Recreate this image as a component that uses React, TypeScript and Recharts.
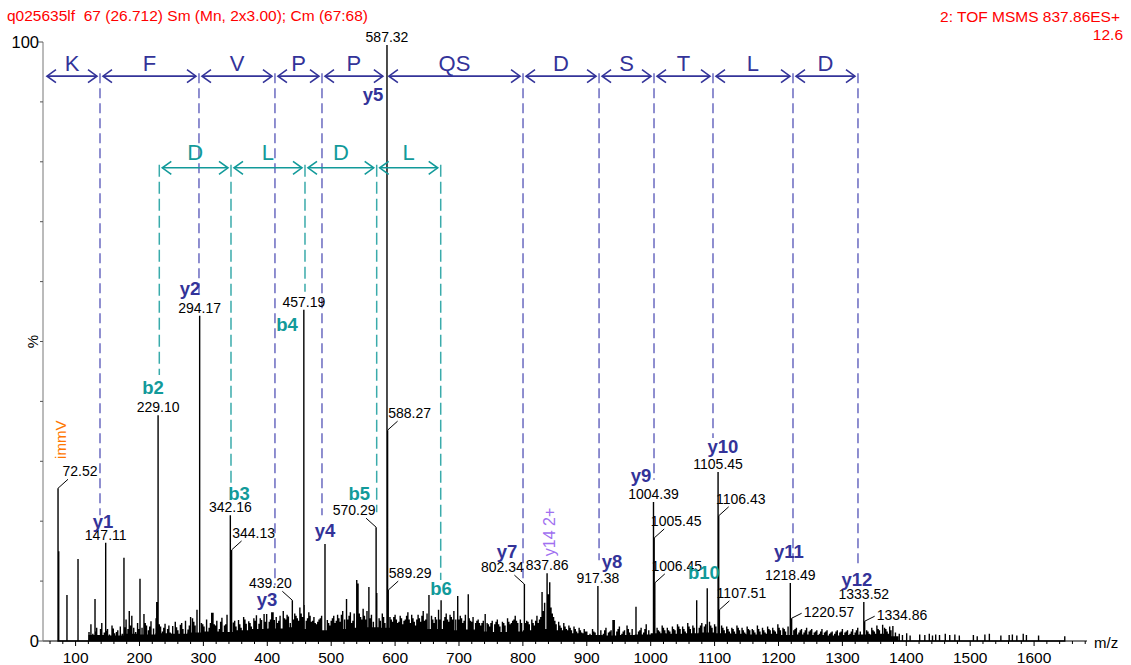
import React from "react";
import { ComposedChart, Line, Area, Scatter, XAxis, YAxis, ReferenceLine } from "recharts";

// labelled peaks (m/z, relative intensity %)
const labelMz = [72.52, 147.11, 229.1, 294.17, 342.16, 344.13, 439.2, 457.19, 570.29, 587.32, 588.27, 589.29, 802.34, 837.86, 917.38, 1004.39, 1005.45, 1006.45, 1105.45, 1106.43, 1107.51, 1218.49, 1220.57, 1333.52, 1334.86];
const labelInt = [25.5, 16.4, 37.7, 54.3, 21.0, 15.2, 6.8, 55.3, 19.0, 99.5, 35.2, 8.5, 9.5, 11.3, 9.2, 23.2, 17.2, 9.7, 28.2, 20.9, 5.2, 9.7, 3.8, 6.5, 3.3];

// unlabelled but visible peaks
const otherPeaks: [number, number][] = [
  [73.6, 15], [86.5, 7.7], [103.8, 13.7], [130.4, 7.0], [175.7, 13.9], [184, 5.0], [200.8, 10.4], [227, 6.5],
  [283, 3.8], [315, 4.7], [399, 4.5], [409, 4.8], [425, 5.0], [457.7, 6.0], [475, 3.0], [490.3, 16.2],
  [524, 7.0], [540, 10.2], [542, 9.6], [559, 9.0], [571.3, 8.0], [653, 7.7], [672, 6.8], [698, 7.5], [714.5, 7.8],
  [741, 4.5], [830, 8.2], [842, 9.8], [941, 3.5], [943, 3.5], [977, 5.7], [1072, 6.8], [1088.5, 8.8],
  [1363, 2.7], [1379, 2.5],
];

// baseline grass
const grass: [number, number][] = [
  [121, 1.5], [124, 2.8], [127, 1.2], [133, 2.2], [137, 1.0], [141, 3.0], [145, 1.4], [150, 2.0], [153, 1.1], [157, 2.6],
  [161, 1.3], [166, 1.8], [170, 2.4], [173, 1.2], [179, 3.6], [182, 2.0], [188, 4.2], [191, 2.2], [194, 1.5], [197, 3.0],
  [204, 2.2], [207, 4.5], [211, 2.6], [214, 1.8], [218, 3.3], [222, 2.1], [226, 3.8], [233, 2.4], [236, 1.6], [240, 2.9],
  [244, 2.0], [248, 1.4], [252, 2.5], [256, 3.2], [260, 1.8], [264, 2.7], [268, 2.0], [272, 3.4], [276, 1.9], [280, 4.0],
  [287, 2.6], [290, 5.2], [297, 3.0], [301, 2.4], [305, 3.6], [309, 2.2], [313, 4.7], [317, 2.8], [321, 3.4], [325, 2.0],
  [329, 3.9], [333, 2.6], [337, 4.4], [347, 3.1], [351, 2.4], [355, 3.5], [359, 2.2], [363, 4.0], [367, 2.9], [371, 3.3],
  [375, 2.4], [379, 3.8], [383, 4.3], [387, 2.9], [391, 3.5], [395, 4.5], [403, 3.2], [407, 4.8], [411, 3.5], [416, 3.0],
  [420, 4.2], [429, 3.6], [433, 4.1], [436, 3.0], [443, 4.6], [447, 3.8], [451, 5.6], [455, 4.0], [461, 3.4], [465, 4.8],
  [469, 3.2], [473, 4.0], [477, 2.8], [481, 3.6], [485, 4.2], [494, 3.5], [498, 2.6], [502, 3.8], [506, 3.0], [510, 4.4],
  [514, 3.2], [518, 5.0], [521, 3.6], [528, 4.2], [532, 3.0], [536, 4.6], [546, 4.0], [550, 5.4], [554, 3.6], [563, 4.4],
  [566, 3.2], [575, 3.8], [580, 4.6], [584, 3.0], [592, 4.0], [596, 3.2], [600, 4.4], [604, 3.0], [608, 4.2], [612, 2.8],
  [616, 3.6], [620, 4.8], [624, 3.0], [628, 3.8], [632, 2.6], [636, 4.4], [640, 3.2], [644, 5.0], [648, 3.6], [657, 4.2],
  [661, 3.0], [665, 3.6], [668, 5.2], [676, 3.4], [680, 4.6], [684, 3.2], [688, 4.0], [692, 5.0], [695, 3.6], [702, 4.2],
  [706, 3.0], [710, 4.4], [718, 3.4], [722, 4.0], [726, 3.0], [730, 3.6], [734, 2.6], [738, 3.4], [744, 3.0], [748, 2.4],
  [752, 3.4], [756, 2.8], [760, 3.6], [764, 2.4], [768, 3.2], [772, 2.6], [776, 3.8], [780, 2.8], [784, 3.4], [788, 4.2],
  [792, 3.0], [796, 3.6], [806, 3.4], [810, 2.8], [814, 3.6], [818, 2.6], [822, 4.2], [826, 3.6], [834, 6.4], [840, 7.8],
  [844, 5.6], [848, 4.0], [852, 2.8], [856, 3.2], [860, 2.2], [864, 3.0], [868, 2.0], [872, 2.6], [876, 1.8], [880, 2.4],
  [884, 1.6], [888, 2.2], [892, 1.4], [896, 2.0], [900, 1.6], [905, 1.2], [909, 2.0], [913, 1.4], [922, 1.8], [926, 1.2],
  [930, 2.2], [934, 1.4], [938, 1.8], [947, 1.6], [951, 2.4], [955, 1.2], [959, 1.8], [963, 2.6], [967, 1.4], [971, 2.0],
  [981, 1.6], [985, 2.2], [989, 1.4], [993, 2.8], [997, 1.8], [1010, 2.2], [1014, 1.6], [1018, 2.6], [1022, 1.8], [1026, 2.2],
  [1030, 1.6], [1034, 2.4], [1038, 1.8], [1042, 2.8], [1046, 2.0], [1050, 2.4], [1054, 1.6], [1058, 3.0], [1062, 2.0], [1066, 2.6],
  [1076, 2.2], [1080, 3.0], [1084, 2.4], [1092, 3.2], [1096, 2.2], [1100, 2.8], [1111, 2.6], [1115, 1.8], [1119, 2.4], [1123, 1.6],
  [1127, 2.2], [1131, 1.6], [1135, 2.6], [1139, 1.8], [1143, 2.2], [1147, 1.4], [1151, 2.4], [1155, 1.8], [1159, 2.0], [1163, 1.4],
  [1167, 2.6], [1171, 1.6], [1175, 2.2], [1179, 1.4], [1183, 2.4], [1187, 1.8], [1191, 2.2], [1195, 1.6], [1199, 2.8], [1203, 1.8],
  [1207, 2.2], [1211, 1.6], [1215, 2.4], [1224, 1.8], [1228, 2.2], [1232, 1.4], [1236, 2.0], [1240, 1.4], [1244, 2.2], [1248, 1.6],
  [1252, 2.0], [1256, 1.4], [1260, 1.8], [1264, 1.2], [1268, 2.0], [1272, 1.4], [1276, 1.8], [1280, 1.2], [1284, 1.6], [1288, 1.2],
  [1292, 1.8], [1296, 1.4], [1300, 2.0], [1304, 1.4], [1308, 1.8], [1312, 1.2], [1316, 2.0], [1320, 1.4], [1324, 2.2], [1328, 1.6],
  [1338, 1.8], [1342, 1.2], [1346, 2.2], [1350, 1.6], [1354, 2.6], [1358, 1.8], [1366, 2.2], [1370, 1.6], [1374, 2.4], [1383, 1.4],
  // sparse tail
  [1389, 1.2], [1394, 1.0], [1400.6, 1.3], [1406, 0.9], [1421, 1.1], [1429, 1.0], [1436, 1.2], [1441, 0.9], [1446, 1.1], [1452, 1.0],
  [1461, 1.2], [1468, 1.0], [1476, 1.1], [1483, 0.9], [1505, 1.0], [1511, 0.8], [1523, 1.1], [1530, 1.2], [1548, 0.9], [1561, 1.0],
  [1566, 1.1], [1573, 0.9], [1583, 1.2], [1588, 1.0], [1607, 0.9], [1648, 0.8],
];

// extra grass between the spikes above
const grassFill: [number, number][] = [
  [131, 1.6], [139, 2.0], [148, 1.7], [159, 2.1], [164, 1.5], [177, 2.3], [186, 2.6], [199, 2.0], [209, 3.0], [216, 2.4],
  [231, 2.8], [238, 2.2], [246, 2.6], [258, 2.3], [266, 3.0], [278, 2.6], [285, 3.2], [299, 2.8], [311, 3.0], [319, 2.6],
  [327, 3.2], [335, 2.8], [349, 3.4], [357, 2.8], [365, 3.6], [373, 3.0], [381, 3.4], [389, 3.8], [397, 3.2], [405, 3.6],
  [414, 4.0], [418, 3.4], [427, 3.8], [431, 4.4], [441, 3.6], [445, 4.2], [449, 3.4], [453, 4.6], [463, 3.8], [467, 4.2],
  [471, 3.4], [479, 3.2], [483, 3.8], [496, 3.0], [500, 3.4], [504, 4.2], [508, 3.4], [512, 3.8], [516, 4.4], [526, 3.6],
  [530, 4.8], [534, 3.4], [544, 4.6], [548, 3.6], [552, 4.2], [556, 5.0], [561, 3.8], [577, 3.4], [582, 4.0], [594, 3.6],
  [598, 4.0], [602, 3.6], [606, 3.2], [610, 3.8], [614, 3.4], [618, 4.2], [622, 3.6], [626, 4.4], [630, 3.2], [634, 3.6],
  [638, 3.8], [642, 4.2], [646, 3.4], [650, 4.6], [659, 3.6], [663, 4.0], [670, 3.6], [678, 4.0], [682, 3.6], [686, 4.4],
  [690, 3.6], [700, 3.6], [704, 3.8], [708, 3.4], [716, 3.8], [720, 3.2], [728, 3.4], [732, 3.0], [736, 3.0], [746, 2.8],
  [750, 3.0], [758, 3.2], [762, 2.8], [770, 3.0], [778, 3.2], [782, 3.0], [786, 3.6], [790, 3.4], [798, 3.0], [804, 3.0],
  [808, 3.2], [816, 3.0], [820, 3.4], [824, 3.0], [828, 4.0], [832, 5.0], [838, 5.6], [846, 4.6], [850, 3.4], [858, 2.6],
  [866, 2.4], [874, 2.2], [882, 2.0], [890, 1.8], [898, 1.6], [911, 1.6], [928, 1.8], [936, 1.6], [949, 2.0], [957, 1.6],
  [965, 2.0], [983, 1.8], [991, 2.0], [1012, 1.8], [1020, 2.2], [1028, 1.8], [1036, 2.0], [1044, 2.4], [1052, 2.0], [1060, 2.4],
  [1068, 2.2], [1078, 2.6], [1086, 2.8], [1094, 2.6], [1102, 2.4], [1113, 2.2], [1121, 2.0], [1129, 2.0], [1137, 2.2], [1145, 1.8],
  [1153, 2.0], [1161, 1.8], [1169, 2.0], [1177, 1.8], [1185, 2.0], [1193, 1.8], [1201, 2.2], [1209, 2.0], [1226, 2.0], [1234, 1.8],
  [1242, 1.8], [1250, 1.8], [1258, 1.6], [1266, 1.6], [1274, 1.6], [1282, 1.4], [1290, 1.6], [1298, 1.6], [1306, 1.6], [1314, 1.6],
  [1322, 1.8], [1340, 1.6], [1348, 1.8], [1356, 2.0], [1368, 2.0], [1376, 1.8],
];

// solid band under the grass
const band: [number, number][] = [
  [120, 1.0], [150, 0.9], [175, 1.2], [200, 1.1], [225, 1.3], [250, 1.2], [275, 1.4], [300, 1.6], [325, 1.5], [350, 1.8],
  [375, 2.0], [400, 2.1], [425, 2.3], [450, 2.0], [475, 1.8], [500, 2.0], [525, 2.2], [550, 2.3], [575, 2.2], [600, 2.0],
  [625, 1.8], [650, 2.0], [675, 1.8], [700, 1.9], [725, 1.6], [750, 1.5], [775, 1.6], [800, 1.8], [825, 2.0], [850, 1.8],
  [875, 1.3], [900, 1.0], [925, 0.9], [950, 1.0], [975, 1.1], [1000, 1.3], [1025, 1.2], [1050, 1.3], [1075, 1.4], [1100, 1.3],
  [1125, 1.2], [1150, 1.1], [1175, 1.2], [1200, 1.0], [1225, 1.1], [1250, 1.0], [1275, 0.9], [1300, 1.0], [1325, 1.1], [1350, 1.2],
  [1375, 0.8], [1388, 0],
];

// y-ion ladder (top): boundaries, residues, dashed drop ends (%)
const yLadderMz = [50.5, 138.2, 293.1, 412.0, 485.6, 585.6, 800.2, 919.2, 1005.2, 1097.5, 1222.7, 1324.4];
const yLadderRes = ["K", "F", "V", "P", "P", "QS", "D", "S", "T", "L", "D"];
const yDropEnd = [21.0, 58.1, 9.3, 21.0, 94.8, 10.2, 13.5, 26.9, 33.9, 13.2, 13.0];

// b-ion ladder
const bLadderMz = [231.0, 343.2, 459.0, 571.2, 671.4];
const bLadderRes = ["D", "L", "D", "L"];
const bDropEnd = [44.4, 26.4, 58.3, 21.5, 10.2];

// ion names with their annotation anchors (m/z, %)
const yIonNames = ["y1", "y2", "y3", "y4", "y5", "y7", "y8", "y9", "y10", "y11", "y12"];
const yIonMz = [142.9, 279.0, 399.5, 490.3, 565.4, 775.1, 939.4, 984.8, 1113.1, 1216.4, 1322.8];
const yIonPct = [19.9, 58.9, 7.0, 18.5, 91.2, 14.9, 13.2, 27.7, 32.4, 14.9, 10.2];
const bIonNames = ["b2", "b3", "b4", "b5", "b6", "b10"];
const bIonMz = [221.1, 355.7, 430.8, 543.9, 671.8, 1083.4];
const bIonPct = [42.4, 24.7, 52.8, 24.7, 8.7, 11.4];

const xMajorTicks = [100, 200, 300, 400, 500, 600, 700, 800, 900, 1000, 1100, 1200, 1300, 1400, 1500, 1600];
const yTicks = [0, 10, 20, 30, 40, 50, 60, 70, 80, 90, 100];

const leaderSide: Record<string, string> = {
  "72.52": "r", "344.13": "r", "439.20": "l", "570.29": "l", "588.27": "r", "589.29": "r", "802.34": "l",
  "1005.45": "r", "1006.45": "r", "1106.43": "r", "1107.51": "r", "1220.57": "rf", "1334.86": "rf",
};

const BLUE = "#333399";
const BLUE_DASH = "#6a6ac0";
const TEAL = "#129a9a";
const TEAL_DASH = "#3aabab";
const FONT = "'Liberation Sans', Arial, sans-serif";

// minor ticks every 20 between the labelled hundreds
const xTicks: number[] = [60, 80];
xMajorTicks.forEach((m) => xTicks.push(m, m + 20, m + 40, m + 60, m + 80));

const allPeaks: [number, number][] = [
  ...labelMz.map((m, i) => [m, labelInt[i]] as [number, number]),
  ...otherPeaks,
  ...grass,
  ...grassFill,
].sort((a, b) => a[0] - b[0]);

const sticks = allPeaks.flatMap(([mz, v]) => [
  { mz, v: 0 },
  { mz, v },
  { mz, v: 0 },
]);
const bandData = band.map(([mz, v]) => ({ mz, v }));
const peakLabels = labelMz.map((mz, i) => ({ mz, v: labelInt[i], text: mz.toFixed(2) }));
const ionLabels = [
  ...yIonNames.map((name, i) => ({ mz: yIonMz[i], v: yIonPct[i], name, color: BLUE })),
  ...bIonNames.map((name, i) => ({ mz: bIonMz[i], v: bIonPct[i], name, color: TEAL })),
];

const XTick = (p: any) => {
  const { x, y, payload } = p;
  const major = payload.value % 100 === 0;
  return (
    <g>
      <line x1={x} y1={y} x2={x} y2={y + (major ? 5 : 3)} stroke="#000" />
      {major && (
        <text x={x} y={y + 22} textAnchor="middle" fontSize={15.5} fill="#000" fontFamily={FONT}>
          {payload.value}
        </text>
      )}
    </g>
  );
};

const YTick = (p: any) => {
  const { x, y, payload } = p;
  const major = payload.value === 0 || payload.value === 100;
  return (
    <g>
      <line x1={x - (major ? 5 : 3)} y1={y} x2={x} y2={y} stroke="#555" />
      {major && (
        <text x={x - 4} y={y + 5.5} textAnchor="end" fontSize={16.5} fill="#000" fontFamily={FONT}>
          {payload.value}
        </text>
      )}
    </g>
  );
};

const arrowShape = (letter: string, color: string, lift: number) => (p: any) => {
  const { x1, y1, x2 } = p;
  const a = x1 + 3;
  const b = x2 - 3;
  return (
    <g>
      <line x1={a} y1={y1} x2={b} y2={y1} stroke={color} strokeWidth={1.6} />
      <polyline points={`${a + 9},${y1 - 6.5} ${a},${y1} ${a + 9},${y1 + 6.5}`} fill="none" stroke={color} strokeWidth={1.6} />
      <polyline points={`${b - 9},${y1 - 6.5} ${b},${y1} ${b - 9},${y1 + 6.5}`} fill="none" stroke={color} strokeWidth={1.6} />
      <text x={(a + b) / 2} y={y1 - lift} textAnchor="middle" fontSize={22} fill={color} fontFamily={FONT}>
        {letter}
      </text>
    </g>
  );
};

const PeakLabel = (p: any) => {
  const { cx, cy, payload } = p;
  const side = leaderSide[payload.text];
  if (!side) {
    return (
      <text x={cx} y={cy - 3} textAnchor="middle" fontSize={14} fill="#000" fontFamily={FONT}>
        {payload.text}
      </text>
    );
  }
  if (side === "rf") {
    return (
      <g>
        <line x1={cx} y1={cy} x2={cx + 10} y2={cy - 5} stroke="#000" strokeWidth={1} />
        <text x={cx + 12} y={cy - 1} textAnchor="start" fontSize={14} fill="#000" fontFamily={FONT}>
          {payload.text}
        </text>
      </g>
    );
  }
  const s = side === "r" ? 1 : -1;
  return (
    <g>
      <line x1={cx} y1={cy} x2={cx + s * 10} y2={cy - 9} stroke="#000" strokeWidth={1} />
      <text x={cx + s * 22} y={cy - 12} textAnchor="middle" fontSize={14} fill="#000" fontFamily={FONT}>
        {payload.text}
      </text>
    </g>
  );
};

const IonLabel = (p: any) => {
  const { cx, cy, payload } = p;
  return (
    <text x={cx} y={cy} textAnchor="middle" dominantBaseline="central" fontSize={18.5} fontWeight="bold" fill={payload.color} fontFamily={FONT}>
      {payload.name}
    </text>
  );
};

const RotLabel = (p: any) => {
  const { cx, cy, payload } = p;
  return (
    <text
      x={cx}
      y={cy}
      transform={`rotate(-90 ${cx} ${cy})`}
      textAnchor="middle"
      dominantBaseline="central"
      fontSize={payload.size}
      fill={payload.color}
      fontFamily={FONT}
    >
      {payload.name}
    </text>
  );
};

const rotLabels = [
  { mz: 77.1, v: 33.6, name: "immV", color: "#ff7700", size: 15 },
  { mz: 842.4, v: 18.2, name: "y14 2+", color: "#a070f0", size: 16 },
];

export default function App() {
  return (
    <div style={{ position: "relative", width: 1131, height: 665, fontFamily: FONT, background: "#fff" }}>
      <style>{"body{margin:0}"}</style>
      <svg width={1131} height={60} style={{ position: "absolute", left: 0, top: 0 }}>
        <text x={7} y={21} fontSize={15.5} fill="#ff0000" fontFamily={FONT} xmlSpace="preserve">
          {"q025635lf  67 (26.712) Sm (Mn, 2x3.00); Cm (67:68)"}
        </text>
        <text x={1120} y={22} fontSize={15.5} fill="#ff0000" fontFamily={FONT} textAnchor="end">
          2: TOF MSMS 837.86ES+
        </text>
        <text x={1123} y={40} fontSize={15.5} fill="#ff0000" fontFamily={FONT} textAnchor="end">
          12.6
        </text>
      </svg>
      <div style={{ position: "absolute", left: 1094, top: 634, fontSize: 15, color: "#000" }}>m/z</div>
      <div style={{ position: "absolute", left: 26, top: 333, fontSize: 15, color: "#000", transform: "rotate(-90deg)" }}>%</div>
      <ComposedChart width={1131} height={665} data={sticks} margin={{ top: 42, right: 44, bottom: 0, left: 0 }}>
        <XAxis
          type="number"
          dataKey="mz"
          domain={[49, 1682.8]}
          ticks={xTicks}
          interval={0}
          tick={<XTick />}
          tickLine={false}
          tickSize={0}
          tickMargin={0}
          height={24}
          axisLine={{ stroke: "#000" }}
        />
        <YAxis
          type="number"
          domain={[0, 100]}
          ticks={yTicks}
          interval={0}
          tick={<YTick />}
          tickLine={false}
          tickSize={0}
          tickMargin={0}
          width={43}
          axisLine={{ stroke: "#777" }}
        />
        <Area data={bandData} dataKey="v" type="stepAfter" fill="#000" fillOpacity={1} stroke="none" isAnimationActive={false} />
        <Line data={sticks} dataKey="v" type="linear" stroke="#000" strokeWidth={1.4} dot={false} isAnimationActive={false} />

        {yLadderMz.slice(1).map((m, i) => (
          <ReferenceLine
            key={`yd${i}`}
            segment={[{ x: m, y: 94.8 }, { x: m, y: yDropEnd[i] }]}
            stroke={BLUE_DASH}
            strokeWidth={1.5}
            strokeDasharray="10 5"
          />
        ))}
        {yLadderRes.map((r, i) => (
          <ReferenceLine
            key={`ya${i}`}
            segment={[{ x: yLadderMz[i], y: 94.3 }, { x: yLadderMz[i + 1], y: 94.3 }]}
            shape={arrowShape(r, BLUE, 5)}
          />
        ))}
        {bLadderMz.map((m, i) => (
          <ReferenceLine
            key={`bd${i}`}
            segment={[{ x: m, y: 79.5 }, { x: m, y: bDropEnd[i] }]}
            stroke={TEAL_DASH}
            strokeWidth={1.5}
            strokeDasharray="12 5"
          />
        ))}
        {bLadderRes.map((r, i) => (
          <ReferenceLine
            key={`ba${i}`}
            segment={[{ x: bLadderMz[i], y: 79.0 }, { x: bLadderMz[i + 1], y: 79.0 }]}
            shape={arrowShape(r, TEAL, 8)}
          />
        ))}

        <Scatter data={peakLabels} dataKey="v" shape={<PeakLabel />} isAnimationActive={false} />
        <Scatter data={ionLabels} dataKey="v" shape={<IonLabel />} isAnimationActive={false} />
        <Scatter data={rotLabels} dataKey="v" shape={<RotLabel />} isAnimationActive={false} />
      </ComposedChart>
    </div>
  );
}
